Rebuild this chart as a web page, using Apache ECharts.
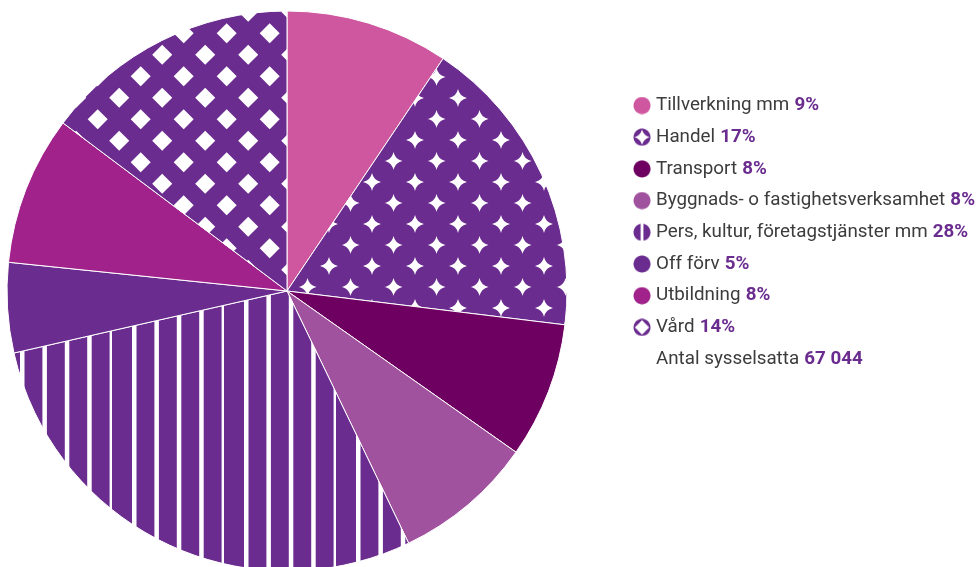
<!DOCTYPE html>
<html><head><meta charset="utf-8">
<script src="https://cdn.jsdelivr.net/npm/echarts@6/dist/echarts.min.js"></script>
<style>html,body{margin:0;padding:0;background:#fff}#c{width:979px;height:567px}</style>
</head><body><div id="c"></div>
<script>
const categories = ['Tillverkning mm','Handel','Transport','Byggnads- o fastighetsverksamhet','Pers, kultur, företagstjänster mm','Off förv','Utbildning','Vård'];
const values = [6310, 11740, 5250, 5420, 19170, 3480, 5770, 9890];
const legendPct = ['9%','17%','8%','8%','28%','5%','8%','14%'];
const totalLabel = 'Antal sysselsatta';
const totalValue = '67 044';

const PURPLE = '#6B2C8F';
const baseColors = ['#CF579F', PURPLE, '#6E0061', '#A1529F', PURPLE, PURPLE, '#A0228A', PURPLE];
const FS = 18.8;

function mk(w,h){const c=document.createElement('canvas');c.width=w;c.height=h;return c;}
function star(ctx,cx,cy,R,r){
  ctx.beginPath();
  ctx.moveTo(cx,cy-R);
  ctx.quadraticCurveTo(cx+r,cy-r,cx+R,cy);
  ctx.quadraticCurveTo(cx+r,cy+r,cx,cy+R);
  ctx.quadraticCurveTo(cx-r,cy+r,cx-R,cy);
  ctx.quadraticCurveTo(cx-r,cy-r,cx,cy-R);
  ctx.closePath();ctx.fill();
}
function diamond(ctx,cx,cy,h){
  ctx.beginPath();ctx.moveTo(cx,cy-h);ctx.lineTo(cx+h,cy);ctx.lineTo(cx,cy+h);ctx.lineTo(cx-h,cy);ctx.closePath();ctx.fill();
}
function starPattern(){
  const W=43,H=42;const c=mk(W,H);const ctx=c.getContext('2d');
  ctx.fillStyle=PURPLE;ctx.fillRect(0,0,W,H);ctx.fillStyle='#fff';
  const pts=[[28,14],[6.5,35]];
  pts.forEach(([x,y])=>{for(let i=-1;i<=1;i++)for(let j=-1;j<=1;j++)star(ctx,x+i*W,y+j*H,9,1.6);});
  return c;
}
function diamondPattern(){
  const W=43,H=43;const c=mk(W,H);const ctx=c.getContext('2d');
  ctx.fillStyle=PURPLE;ctx.fillRect(0,0,W,H);ctx.fillStyle='#fff';
  const pts=[[11.7,33.3],[33.2,11.8]];
  pts.forEach(([x,y])=>{for(let i=-1;i<=1;i++)for(let j=-1;j<=1;j++)diamond(ctx,x+i*W,y+j*H,10);});
  return c;
}
function stripePattern(){
  const W=112,H=8;const c=mk(W,H);const ctx=c.getContext('2d');
  ctx.fillStyle=PURPLE;ctx.fillRect(0,0,W,H);ctx.fillStyle='#fff';
  for(let k=0;k<5;k++){const x=20+22.4*k; ctx.fillRect(x,0,4.5,H);}
  return c;
}
function iconCircle(col,extra){
  const c=mk(40,40);const ctx=c.getContext('2d');
  ctx.fillStyle=col;ctx.beginPath();ctx.arc(20,20,19,0,Math.PI*2);ctx.fill();
  if(extra){ctx.fillStyle='#fff';extra(ctx);}
  return 'image://'+c.toDataURL();
}
const icons = [
  iconCircle(baseColors[0]),
  iconCircle(PURPLE,ctx=>star(ctx,20,20,17,3.5)),
  iconCircle(baseColors[2]),
  iconCircle(baseColors[3]),
  iconCircle(PURPLE,ctx=>ctx.fillRect(17,0,6,40)),
  iconCircle(baseColors[5]),
  iconCircle(baseColors[6]),
  iconCircle(PURPLE,ctx=>diamond(ctx,20,20,16))
];
const fills = [
  baseColors[0],
  {image:starPattern(),repeat:'repeat'},
  baseColors[2],
  baseColors[3],
  {image:stripePattern(),repeat:'repeat'},
  baseColors[5],
  baseColors[6],
  {image:diamondPattern(),repeat:'repeat'}
];
const rich = {
  n:{fontFamily:'Roboto',fontSize:FS,fontWeight:'normal',color:'#3c3c3c'},
  b:{fontFamily:'Roboto',fontSize:FS,fontWeight:'bold',color:PURPLE}
};

const chart = echarts.init(document.getElementById('c'));
chart.setOption({
  animation:false,
  title:{
    text:'{n|'+totalLabel+'} {b|'+totalValue+'}',
    left:656, top:350, padding:0,
    textStyle:{fontWeight:'normal',fontSize:FS,rich:rich}
  },
  legend:{
    orient:'vertical', left:633, top:96, padding:0,
    itemWidth:18, itemHeight:18, itemGap:12.7, selectedMode:false,
    textStyle:{fontSize:FS,rich:rich},
    formatter:name=>'{n|'+name+'} {b|'+legendPct[categories.indexOf(name)]+'}',
    data:categories.map((n,i)=>({name:n,icon:icons[i]}))
  },
  series:[{
    type:'pie', center:[287,291], radius:[0,280], startAngle:90, clockwise:true,
    label:{show:false}, labelLine:{show:false},
    emphasis:{disabled:true},
    itemStyle:{borderColor:'#fff',borderWidth:1},
    data:categories.map((n,i)=>({name:n,value:values[i],itemStyle:{color:fills[i]}}))
  }]
});
</script></body></html>
